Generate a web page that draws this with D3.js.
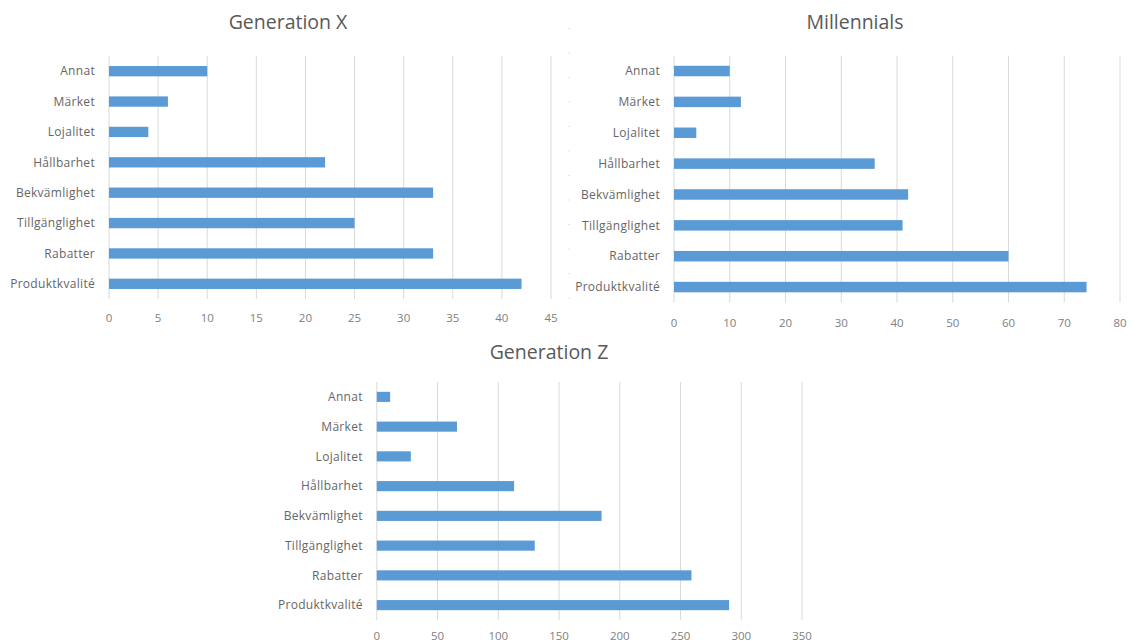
<!DOCTYPE html>
<html>
<head>
<meta charset="utf-8">
<script src="https://cdn.jsdelivr.net/npm/d3@7"></script>
<style>
	body { margin: 0; background: #ffffff; }
	svg { display: block; }
	text { font-family: 'Open Sans', Lato, sans-serif; }
</style>
</head>
<body>
<div id="viz"></div>
<script>
// categories, top to bottom as drawn
const categories = ['Annat', 'Märket', 'Lojalitet', 'Hållbarhet', 'Bekvämlighet', 'Tillgänglighet', 'Rabatter', 'Produktkvalité']

const gen_x = [10, 6, 4, 22, 33, 25, 33, 42]
const millennials = [10, 12, 4, 36, 42, 41, 60, 74]
const gen_z = [11, 66, 28, 113, 185, 130, 259, 290]

const titles = ['Generation X', 'Millennials', 'Generation Z']
const x_max = [45, 80, 350]
const x_step = [5, 10, 50]

const WIDTH = 1135
const HEIGHT = 644
const BAR_COLOR = '#5b9bd5'
const GRID_COLOR = '#d9d9d9'
const TEXT_COLOR = '#666666'
const TICK_COLOR = '#808080'

// plot boxes for each chart (left, right, top, bottom, title center)
const panels = [
	{ x0: 109, x1: 551, y0: 56, y1: 299, tx: 288, ty: 29, tickY: 322 },
	{ x0: 674, x1: 1120, y0: 55.6, y1: 302.5, tx: 855, ty: 29, tickY: 327 },
	{ x0: 376.8, x1: 802, y0: 382, y1: 620, tx: 549, ty: 359, tickY: 640 },
]
const series = [gen_x, millennials, gen_z]

const svg = d3
	.select('#viz')
	.append('svg')
	.attr('width', WIDTH)
	.attr('height', HEIGHT)

// faint dotted border between the two top charts
svg.append('line')
	.attr('x1', 569)
	.attr('x2', 569)
	.attr('y1', 28)
	.attr('y2', 302)
	.attr('stroke', '#cccccc')
	.attr('stroke-width', 1)
	.attr('stroke-dasharray', '1,23.5')

function renderChart(i) {
	const p = panels[i]
	const values = series[i]

	const x = d3.scaleLinear().domain([0, x_max[i]]).range([p.x0, p.x1])
	const y = d3
		.scaleBand()
		.domain(categories)
		.range([p.y0, p.y1])
		.paddingInner(0.66)
		.paddingOuter(0.33)

	const g = svg.append('g')

	const ticks = d3.range(0, x_max[i] + 0.001, x_step[i])

	// vertical gridlines
	g.selectAll('line.grid')
		.data(ticks)
		.enter()
		.append('line')
		.attr('class', 'grid')
		.attr('x1', (d) => x(d))
		.attr('x2', (d) => x(d))
		.attr('y1', p.y0)
		.attr('y2', p.y1)
		.attr('stroke', GRID_COLOR)
		.attr('stroke-width', 1)

	// tick labels
	g.selectAll('text.tick')
		.data(ticks)
		.enter()
		.append('text')
		.attr('class', 'tick')
		.attr('x', (d) => x(d))
		.attr('y', p.tickY)
		.attr('text-anchor', 'middle')
		.attr('fill', TICK_COLOR)
		.style('font-size', '11.5px')
		.text((d) => d)

	// bars
	g.selectAll('rect')
		.data(values)
		.enter()
		.append('rect')
		.attr('x', x(0))
		.attr('y', (d, j) => y(categories[j]))
		.attr('width', (d) => x(d) - x(0))
		.attr('height', y.bandwidth())
		.attr('fill', BAR_COLOR)

	// category labels
	g.selectAll('text.cat')
		.data(categories)
		.enter()
		.append('text')
		.attr('class', 'cat')
		.attr('x', p.x0 - 14)
		.attr('y', (d) => y(d) + y.bandwidth() / 2)
		.attr('dy', '0.35em')
		.attr('text-anchor', 'end')
		.attr('fill', TEXT_COLOR)
		.style('font-size', '12px')
		.style('letter-spacing', '0.3px')
		.text((d) => d)

	// title
	g.append('text')
		.attr('x', p.tx)
		.attr('y', p.ty)
		.attr('text-anchor', 'middle')
		.attr('fill', '#595959')
		.style('font-size', '19.5px')
		.text(titles[i])
}

panels.forEach((p, i) => renderChart(i))
</script>
</body>
</html>
